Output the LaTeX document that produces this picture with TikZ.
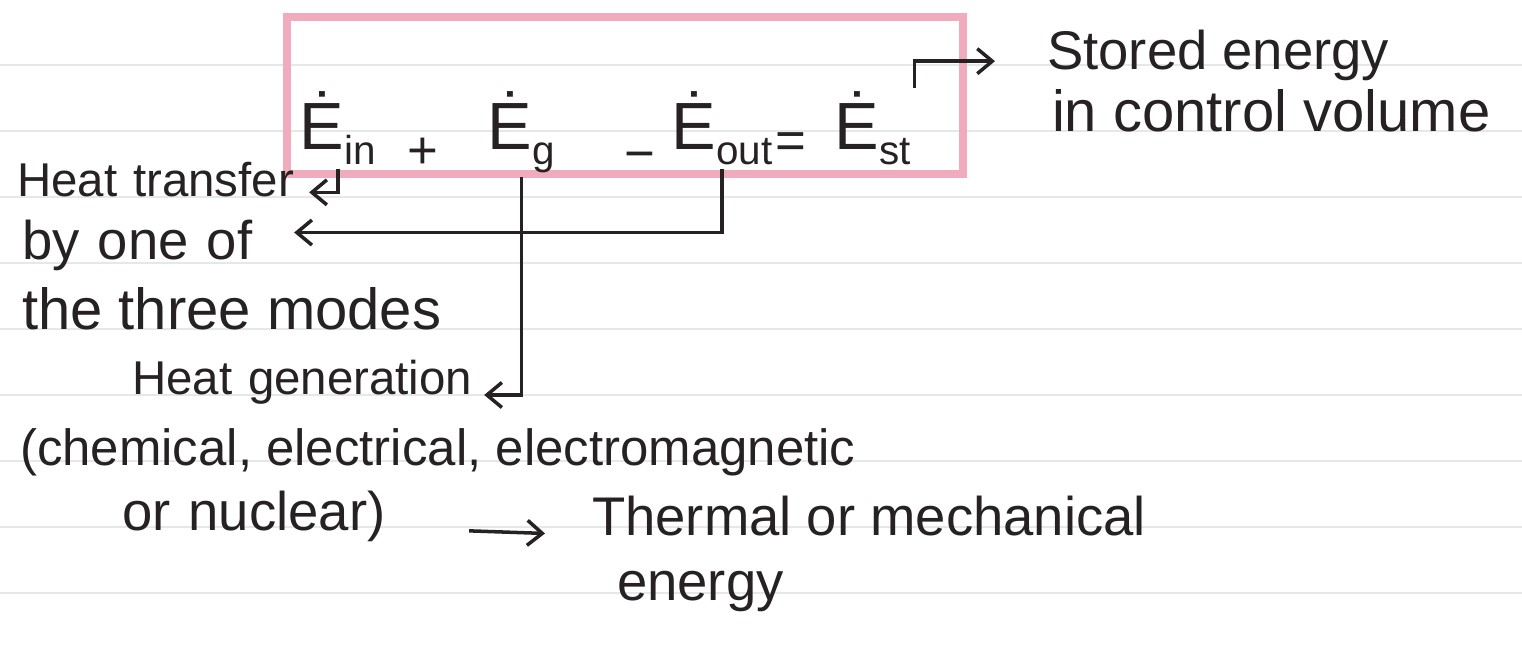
\documentclass[tikz,border=0pt]{standalone}
\usepackage{fontspec}
\setmainfont{Liberation Sans}
\usetikzlibrary{arrows.meta,positioning}
\definecolor{ink}{RGB}{38,34,36}
\definecolor{hilite}{RGB}{240,172,188}
\definecolor{ruling}{RGB}{230,231,235}
\newcommand\sub[1]{\raisebox{-0.22em}{\fontsize{23}{26}\selectfont #1}}

\begin{document}
\begin{tikzpicture}[
  x=0.02cm, y=-0.02cm,
  note/.style={anchor=base west, align=left, inner sep=1pt, text=ink,
    font=\fontsize{31}{37}\selectfont},
  smallnote/.style={note, font=\fontsize{27}{32}\selectfont},
  term/.style={anchor=base west, inner sep=2pt, text=ink,
    font=\fontsize{38}{44}\selectfont},
  op/.style={inner sep=2pt, text=ink, font=\fontsize{30}{36}\selectfont},
  arrow/.style={-{Straight Barb[length=3mm,width=5mm]}, line width=2pt, draw=ink},
  notebookline/.style={draw=ruling, line width=0.6pt}
]
\useasboundingbox (0,0) rectangle (1522,645);
% ruled paper
\foreach \y in {65,131,...,593}
  \draw[notebookline] (0,\y) -- (1522,\y);
\draw[hilite, line width=4.5pt] (287,17) rectangle (963,174);

% energy balance
\node[term] (Ein) at (296,150) {Ė\sub{in}};
\node[op] (plus) at (423,153) {+};
\node[term] (Eg) at (484,150) {Ė\sub{g}};
\node[op] (minus) at (640,162) {−};
\node[term] (Eout) at (668,150) {Ė\sub{out}};
\node[op] (eq) at (791,146) {=};
\node[term] (Est) at (831,150) {Ė\sub{st}};

% notes
\node[note] (stored) at (1045,70) {Stored energy};
\node[note, font=\fontsize{33}{39}\selectfont] (volume) at (1050,132) {in control volume};
\node[smallnote, text width=5.8cm] (transfer) at (15,197) {Heat transfer};
\node[note, text width=5.4cm] (byone) at (20,260) {by one of};
\node[note, font=\fontsize{33}{39}\selectfont] (modes) at (20,330) {the three modes};
\node[smallnote, text width=7cm] (heatgen) at (130,395) {Heat generation};
\node[note, font=\fontsize{29}{35}\selectfont] (sources) at (18,465)
  {(chemical, electrical, electromagnetic};
\node[note, text width=6.4cm] (nuclear) at (120,530) {or nuclear)};
\node[note] (thermal) at (590,535) {Thermal or mechanical};
\node[note] (energy) at (615,600) {energy};

\draw[arrow] (Ein.south) |- (transfer.mid east);
\draw[arrow] (Eout.south) |- ([yshift=13pt]byone.mid east);
\draw[arrow] (Eg.south) |- (heatgen.base east);
\draw[arrow, shorten >=1cm] (Est.north east) |- ([yshift=-3pt]stored.west);
\draw[arrow, shorten <=0.5cm, shorten >=0.9cm] (nuclear.base east) -- (thermal.base west);
\end{tikzpicture}
\end{document}
